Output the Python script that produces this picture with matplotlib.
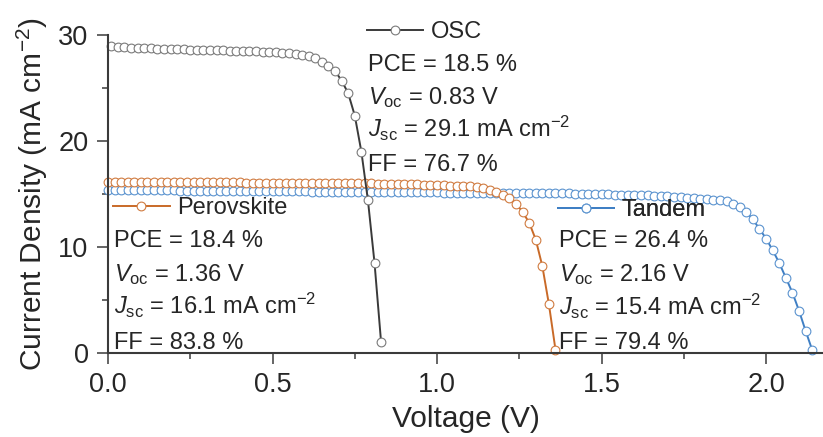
import matplotlib
matplotlib.use('Agg')
import matplotlib.pyplot as plt

# J-V curves of the single-junction and tandem cells
osc_v = [0.01, 0.03, 0.05, 0.07, 0.09, 0.11, 0.13, 0.15, 0.17, 0.19,
         0.21, 0.23, 0.25, 0.27, 0.29, 0.31, 0.33, 0.35, 0.37, 0.39,
         0.41, 0.43, 0.45, 0.47, 0.49, 0.51, 0.53, 0.55, 0.57, 0.59,
         0.61, 0.63, 0.65, 0.67, 0.69, 0.71, 0.73, 0.75, 0.77, 0.79,
         0.81, 0.83]
osc_j = [29.0, 28.9, 28.9, 28.8, 28.8, 28.8, 28.8, 28.7, 28.7, 28.7,
         28.7, 28.7, 28.6, 28.6, 28.6, 28.6, 28.6, 28.6, 28.5, 28.5,
         28.5, 28.5, 28.5, 28.4, 28.4, 28.4, 28.3, 28.3, 28.2, 28.1,
         28.0, 27.8, 27.5, 27.1, 26.6, 25.7, 24.5, 22.4, 19.0, 14.4,
         8.5, 1.0]

pvk_v = [0.00, 0.02, 0.04, 0.06, 0.08, 0.10, 0.12, 0.14, 0.16, 0.18,
         0.20, 0.22, 0.24, 0.26, 0.28, 0.30, 0.32, 0.34, 0.36, 0.38,
         0.40, 0.42, 0.44, 0.46, 0.48, 0.50, 0.52, 0.54, 0.56, 0.58,
         0.60, 0.62, 0.64, 0.66, 0.68, 0.70, 0.72, 0.74, 0.76, 0.78,
         0.80, 0.82, 0.84, 0.86, 0.88, 0.90, 0.92, 0.94, 0.96, 0.98,
         1.00, 1.02, 1.04, 1.06, 1.08, 1.10, 1.12, 1.14, 1.16, 1.18,
         1.20, 1.22, 1.24, 1.26, 1.28, 1.30, 1.32, 1.34, 1.36]
pvk_j = [16.1, 16.1, 16.1, 16.1, 16.1, 16.1, 16.1, 16.1, 16.1, 16.1,
         16.1, 16.1, 16.1, 16.1, 16.1, 16.1, 16.1, 16.1, 16.1, 16.1,
         16.1, 16.05, 16.05, 16.05, 16.05, 16.05, 16.05, 16.05, 16.05, 16.05,
         16.05, 16.0, 16.0, 16.0, 16.0, 16.0, 16.0, 16.0, 16.0, 16.0,
         16.0, 15.95, 15.95, 15.95, 15.9, 15.9, 15.9, 15.9, 15.85, 15.85,
         15.85, 15.85, 15.8, 15.8, 15.8, 15.8, 15.7, 15.6, 15.4, 15.2,
         14.9, 14.6, 14.1, 13.3, 12.3, 10.7, 8.2, 4.6, 0.3]

tan_v = [0.00, 0.02, 0.04, 0.06, 0.08, 0.10, 0.12, 0.14, 0.16, 0.18,
         0.20, 0.22, 0.24, 0.26, 0.28, 0.30, 0.32, 0.34, 0.36, 0.38,
         0.40, 0.42, 0.44, 0.46, 0.48, 0.50, 0.52, 0.54, 0.56, 0.58,
         0.60, 0.62, 0.64, 0.66, 0.68, 0.70, 0.72, 0.74, 0.76, 0.78,
         0.80, 0.82, 0.84, 0.86, 0.88, 0.90, 0.92, 0.94, 0.96, 0.98,
         1.00, 1.02, 1.04, 1.06, 1.08, 1.10, 1.12, 1.14, 1.16, 1.18,
         1.20, 1.22, 1.24, 1.26, 1.28, 1.30, 1.32, 1.34, 1.36, 1.38,
         1.40, 1.42, 1.44, 1.46, 1.48, 1.50, 1.52, 1.54, 1.56, 1.58,
         1.60, 1.62, 1.64, 1.66, 1.68, 1.70, 1.72, 1.74, 1.76, 1.78,
         1.80, 1.82, 1.84, 1.86, 1.88, 1.90, 1.92, 1.94, 1.96, 1.98,
         2.00, 2.02, 2.04, 2.06, 2.08, 2.10, 2.12, 2.14]
tan_j = [15.4, 15.4, 15.4, 15.4, 15.4, 15.4, 15.4, 15.4, 15.4, 15.4,
         15.4, 15.3, 15.3, 15.3, 15.3, 15.3, 15.3, 15.3, 15.3, 15.3,
         15.3, 15.3, 15.3, 15.3, 15.3, 15.3, 15.3, 15.3, 15.3, 15.3,
         15.3, 15.2, 15.2, 15.2, 15.2, 15.2, 15.2, 15.2, 15.2, 15.2,
         15.2, 15.2, 15.2, 15.2, 15.2, 15.2, 15.2, 15.2, 15.2, 15.2,
         15.2, 15.1, 15.1, 15.1, 15.1, 15.1, 15.1, 15.1, 15.1, 15.1,
         15.1, 15.1, 15.1, 15.1, 15.1, 15.1, 15.1, 15.1, 15.1, 15.1,
         15.1, 15.0, 15.0, 15.0, 15.0, 15.0, 15.0, 14.95, 14.95, 14.95,
         14.9, 14.9, 14.9, 14.85, 14.85, 14.8, 14.75, 14.7, 14.65, 14.6,
         14.55, 14.5, 14.45, 14.4, 14.3, 14.1, 13.8, 13.3, 12.6, 11.7,
         10.8, 9.7, 8.5, 7.1, 5.7, 4.0, 2.1, 0.3]

osc_info = ['PCE = 18.5 %', r'$V_{\mathrm{oc}}$ = 0.83 V',
            r'$J_{\mathrm{sc}}$ = 29.1 mA cm$^{-2}$', 'FF = 76.7 %']
pvk_info = ['PCE = 18.4 %', r'$V_{\mathrm{oc}}$ = 1.36 V',
            r'$J_{\mathrm{sc}}$ = 16.1 mA cm$^{-2}$', 'FF = 83.8 %']
tan_info = ['PCE = 26.4 %', r'$V_{\mathrm{oc}}$ = 2.16 V',
            r'$J_{\mathrm{sc}}$ = 15.4 mA cm$^{-2}$', 'FF = 79.4 %']

c_osc = '#3a3a3a'
c_pvk = '#c96a28'
c_tan = '#3f7fc4'
c_txt = '#262626'

plt.rcParams['font.family'] = ['Liberation Sans', 'DejaVu Sans']
plt.rcParams['mathtext.fontset'] = 'custom'
plt.rcParams['mathtext.rm'] = 'Liberation Sans'
plt.rcParams['mathtext.it'] = 'Liberation Sans:italic'
plt.rcParams['mathtext.bf'] = 'Liberation Sans:bold'

fig = plt.figure(figsize=(8.23, 4.37), dpi=100)
ax = fig.add_axes([108/823., 84/437., 715/823., 318/437.])

mk = dict(marker='o', markersize=6.3, markerfacecolor='white',
          markeredgewidth=0.8, linewidth=1.4, clip_on=False)
l_tan, = ax.plot(tan_v, tan_j, color=c_tan, markeredgecolor='#5b93cf', **mk)
l_pvk, = ax.plot(pvk_v, pvk_j, color=c_pvk, markeredgecolor='#d07b40', **mk)
l_osc, = ax.plot(osc_v, osc_j, color=c_osc, markeredgecolor='#7a7a7a', **mk)

ax.set_xlim(0, 2.173)
ax.set_ylim(0, 30)
ax.set_xticks([0.0, 0.5, 1.0, 1.5, 2.0])
ax.set_xticks([0.25, 0.75, 1.25, 1.75], minor=True)
ax.set_yticks([0, 10, 20, 30])
ax.set_yticks([5, 15, 25], minor=True)
ax.set_xticklabels(['0.0', '0.5', '1.0', '1.5', '2.0'])

for s in ['top', 'right']:
    ax.spines[s].set_visible(False)
for s in ['left', 'bottom']:
    ax.spines[s].set_linewidth(1.5)
    ax.spines[s].set_color(c_osc)
ax.tick_params(which='major', length=8, width=1.1, color=c_osc,
               labelsize=19.5, labelcolor=c_txt, pad=6)
ax.tick_params(which='minor', length=4, width=1.1, color=c_osc)

ax.set_xlabel('Voltage (V)', fontsize=21.5, color=c_txt, labelpad=5)
ax.set_ylabel('Current Density (mA cm$^{-2}$)', fontsize=21.5,
              color=c_txt, labelpad=6)

# legend entries and device parameters for each curve
blocks = [(l_osc, 'OSC', osc_info, 0.362, 1.009, [0.887, 0.783, 0.679, 0.572]),
          (l_pvk, 'Perovskite', pvk_info, 0.007, 0.456, [0.333, 0.226, 0.123, 0.013]),
          (l_tan, 'Tandem', tan_info, 0.629, 0.450, [0.333, 0.226, 0.119, 0.013])]
for line, name, info, x0, yleg, ys in blocks:
    leg = ax.legend([line], [name], loc='center left', bbox_to_anchor=(x0, yleg),
                    frameon=False, fontsize=17, borderpad=0, borderaxespad=0,
                    handlelength=2.4, handletextpad=0.3, numpoints=1)
    for t in leg.get_texts():
        t.set_color(c_txt)
    ax.add_artist(leg)
    for s, y in zip(info, ys):
        ax.text(x0 + 0.002, y, s, transform=ax.transAxes, fontsize=17,
                color=c_txt, ha='left', va='baseline')

fig.savefig('out.png', dpi=100)
